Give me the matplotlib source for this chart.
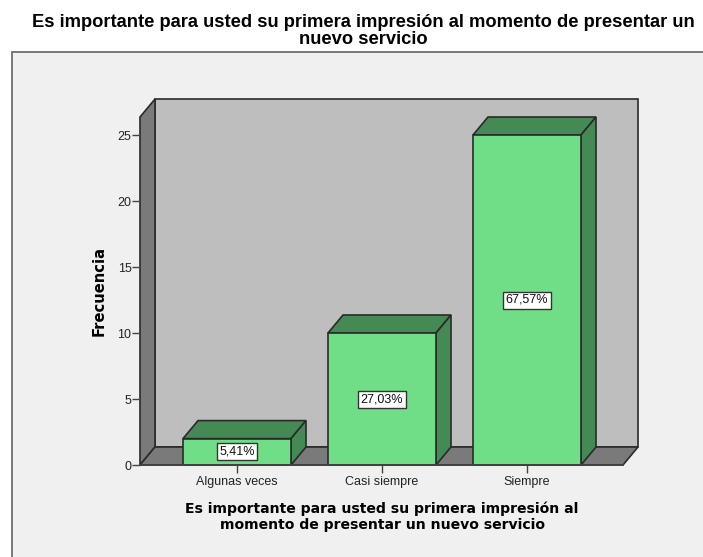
import matplotlib
matplotlib.use("Agg")
import matplotlib.pyplot as plt
from matplotlib.patches import Polygon, Rectangle

W, H = 703, 557
categories = ["Algunas veces", "Casi siempre", "Siempre"]
values = [2, 10, 25]
pct_labels = ["5,41%", "27,03%", "67,57%"]
yticks = [0, 5, 10, 15, 20, 25]
title = "Es importante para usted su primera impresión al momento de presentar un\nnuevo servicio"
xlabel = "Es importante para usted su primera impresión al\nmomento de presentar un nuevo servicio"
ylabel = "Frecuencia"

fig = plt.figure(figsize=(W / 100, H / 100), dpi=100, facecolor="white")
fig.add_artist(Rectangle((12 / W, -0.01), 1.01 - 12 / W, 1.01 - 52 / H, transform=fig.transFigure,
                         facecolor="#f0f0f0", edgecolor="#6e6e6e", linewidth=1.3, zorder=-1))

L, R, B, T = 140, 638, 465, 99
ax = fig.add_axes([L / W, 1 - B / H, (R - L) / W, (B - T) / H])
PX = 145.0
PY = 13.2
ax.set_xlim((L - 237) / PX, (R - 237) / PX)
ax.set_ylim(0, (B - T) / PY)
ax.patch.set_visible(False)
for s in ax.spines.values():
    s.set_visible(False)

dx, dy = 15 / PX, 18 / PY
x0, x1 = ax.get_xlim()
y1 = ax.get_ylim()[1]
fx1 = x1 - dx
ek = dict(edgecolor="#2a2a2a", linewidth=1.2, joinstyle="miter", clip_on=False)
ax.add_patch(Polygon([(x0 + dx, dy), (x1, dy), (x1, y1), (x0 + dx, y1)], facecolor="#bebebe", **ek))
ax.add_patch(Polygon([(x0, 0), (x0 + dx, dy), (x0 + dx, y1), (x0, y1 - dy)], facecolor="#7a7a7a", **ek))
ax.add_patch(Polygon([(x0, 0), (fx1, 0), (x1, dy), (x0 + dx, dy)], facecolor="#7a7a7a", **ek))

hw = 54 / PX
for i, v in enumerate(values):
    ax.add_patch(Polygon([(i - hw, v), (i + hw, v), (i + hw + dx, v + dy), (i - hw + dx, v + dy)],
                         facecolor="#458a54", zorder=3, **ek))
    ax.add_patch(Polygon([(i + hw, 0), (i + hw + dx, dy), (i + hw + dx, v + dy), (i + hw, v)],
                         facecolor="#458a54", zorder=3, **ek))
    ax.add_patch(Rectangle((i - hw, 0), 2 * hw, v, facecolor="#70de86", zorder=4, **ek))
    ax.text(i, v / 2, pct_labels[i], ha="center", va="center", fontsize=9, family="Liberation Sans",
            color="#111111", zorder=5,
            bbox=dict(boxstyle="square,pad=0.2", facecolor="white", edgecolor="#333333", linewidth=1.0))

ax.plot([x0, fx1], [0, 0], color="#444444", lw=1.2, zorder=6, clip_on=False)

ax.set_xticks(range(len(categories)), categories)
ax.set_yticks(yticks)
ax.tick_params(axis="x", length=5.5, width=1.0, color="#444444", pad=2.5, labelsize=9, labelcolor="#222222")
ax.tick_params(axis="y", length=5.8, width=1.0, color="#444444", pad=0.3, labelsize=9, labelcolor="#222222")
for t in ax.get_xticklabels() + ax.get_yticklabels():
    t.set_family("Liberation Sans")

fig.text(363.5 / W, 1 - 48 / H, title, ha="center", va="bottom", fontsize=13.2, family="Liberation Sans",
         fontweight="bold", color="black", linespacing=1.0)
fig.text(382 / W, 1 - 516.5 / H, xlabel, ha="center", va="center", fontsize=10.1, family="DejaVu Sans",
         fontweight="bold", color="black", linespacing=1.2)
fig.text(99 / W, 1 - 291 / H, ylabel, ha="center", va="center", rotation=90, fontsize=10.6,
         family="DejaVu Sans", fontweight="bold", color="black")

fig.savefig("out.png", dpi=100, facecolor="white")
